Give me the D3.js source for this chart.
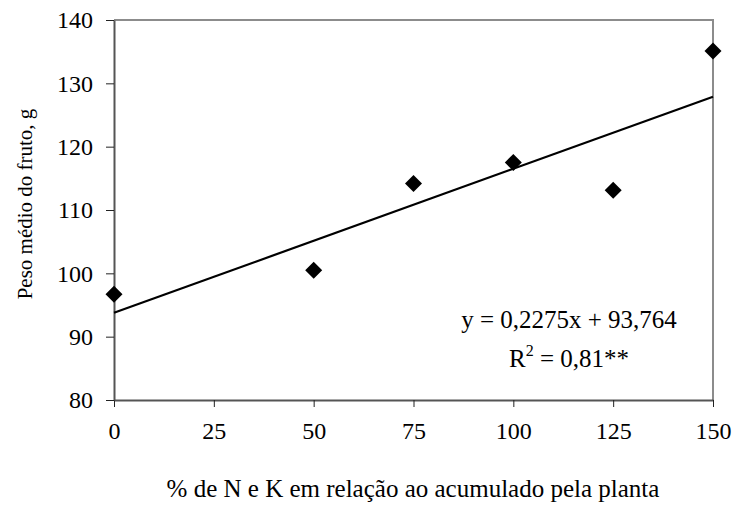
<!DOCTYPE html>
<meta charset="utf-8">
<title>Peso médio do fruto</title>
<style>
body { margin: 0; background: #fff; }
svg text { font-family: "Liberation Serif", "Times New Roman", serif; fill: #000; }
</style>
<script src="https://d3js.org/d3.v7.min.js"></script>
<body>
<script>
var width = 732, height = 510;
var margin = {left: 114, right: 19, top: 20, bottom: 110};

var doses = [0, 50, 75, 100, 125, 150];
var peso = [96.7, 100.5, 114.2, 117.5, 113.1, 135.1];
var xTicks = [0, 25, 50, 75, 100, 125, 150];
var yTicks = [80, 90, 100, 110, 120, 130, 140];
var slope = 0.2275, intercept = 93.764;

var svg = d3.select('body').append('svg').attr('width', width).attr('height', height);

var x = d3.scaleLinear().domain([0, 150]).range([margin.left, width - margin.right]);
var y = d3.scaleLinear().domain([80, 140]).range([height - margin.bottom, margin.top]);

// plot frame (top & right lighter)
svg.append('path')
   .attr('d', 'M' + x(0) + ',' + y(140) + 'H' + x(150) + 'V' + y(80))
   .attr('fill', 'none').attr('stroke', '#8c8c8c').attr('stroke-width', 2);

var xAxis = svg.append('g')
   .attr('transform', 'translate(0,' + y(80) + ')')
   .call(d3.axisBottom(x).tickValues(xTicks).tickSize(7).tickSizeOuter(0).tickPadding(10));
var yAxis = svg.append('g')
   .attr('transform', 'translate(' + x(0) + ',0)')
   .call(d3.axisLeft(y).tickValues(yTicks).tickSize(8).tickSizeOuter(0).tickPadding(13));

[xAxis, yAxis].forEach(function(a) {
  a.attr('font-family', null);
  a.select('.domain').attr('stroke', '#555').attr('stroke-width', 2);
  a.selectAll('.tick line').attr('stroke', '#222').attr('stroke-width', 1);
  a.selectAll('text').style('font-size', '24px').attr('fill', '#000')
   .style('font-family', '"Liberation Serif", serif');
});
xAxis.selectAll('text').attr('dy', '0.9em');

// trend line
svg.append('line')
   .attr('x1', x(0)).attr('y1', y(intercept))
   .attr('x2', x(150)).attr('y2', y(slope * 150 + intercept))
   .attr('stroke', '#000').attr('stroke-width', 2.2);

// points
var r = 8.5;
svg.selectAll('.pt')
   .data(doses)
   .enter()
   .append('path')
   .attr('class', 'pt')
   .attr('d', function(d, i) {
     var cx = x(d), cy = y(peso[i]);
     return 'M' + cx + ',' + (cy - r) + 'L' + (cx + r) + ',' + cy + 'L' + cx + ',' + (cy + r) + 'L' + (cx - r) + ',' + cy + 'Z';
   })
   .attr('fill', '#000');

// equation
svg.append('text')
   .attr('x', 569).attr('y', 328)
   .attr('text-anchor', 'middle')
   .style('font-size', '25px')
   .text('y = 0,2275x + 93,764');
var r2 = svg.append('text')
   .attr('x', 569).attr('y', 367)
   .attr('text-anchor', 'middle')
   .style('font-size', '25px');
r2.append('tspan').text('R');
r2.append('tspan').attr('dy', -11).style('font-size', '16px').text('2');
r2.append('tspan').attr('dy', 11).text(' = 0,81**');

// axis titles
svg.append('text')
   .attr('x', 413).attr('y', 497)
   .attr('text-anchor', 'middle')
   .style('font-size', '25px')
   .text('% de N e K em relação ao acumulado pela planta');
svg.append('text')
   .attr('transform', 'translate(32,204) rotate(-90)')
   .attr('text-anchor', 'middle')
   .style('font-size', '21px')
   .text('Peso médio do fruto, g');
</script>
</body>
